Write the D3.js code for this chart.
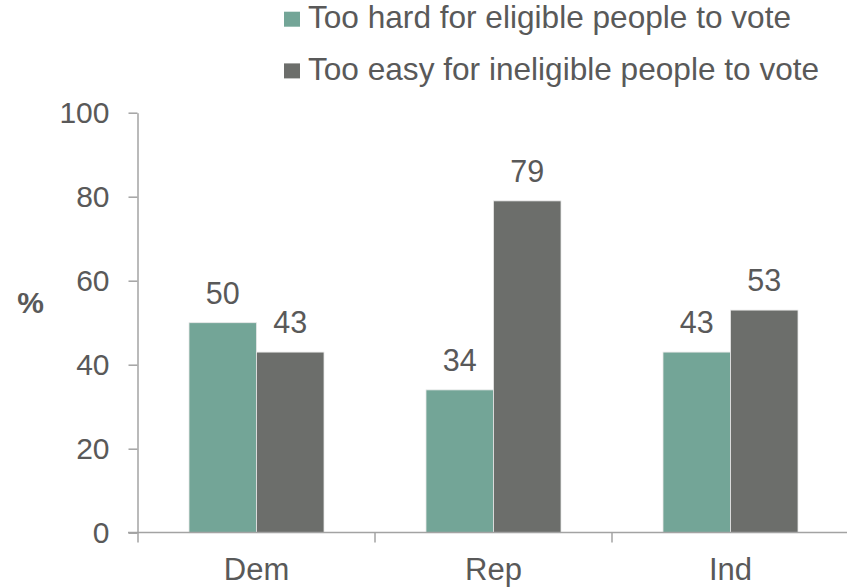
<!DOCTYPE html>
<html><head><meta charset="utf-8">
<script src="https://cdn.jsdelivr.net/npm/d3@7"></script>
<style>
html,body{margin:0;padding:0;background:#fff;}
svg{display:block;font-family:"Liberation Sans",Arial,sans-serif;}
</style></head>
<body>
<svg id="chart" width="847" height="587"></svg>
<script>
const categories = ["Dem", "Rep", "Ind"];
const seriesNames = ["Too hard for eligible people to vote", "Too easy for ineligible people to vote"];
const tooHard = [50, 34, 43];
const tooEasy = [43, 79, 53];
const yTicks = [0, 20, 40, 60, 80, 100];
const colors = ["#73a597", "#6c6e6b"];

const svg = d3.select("#chart");
const textColor = "#595959";
const axisColor = "#a3a3a3";
const fs = 30;

const y = d3.scaleLinear().domain([0, 100]).range([532.7, 112.7]);
const x0 = d3.scaleBand().domain(categories).range([138, 849]);
const x1 = d3.scaleBand().domain([0, 1]).range([51, x0.bandwidth() - 51]);

// y axis
const yAxis = d3.axisLeft(y).tickValues(yTicks).tickSize(9).tickPadding(19).tickSizeOuter(0);
const gy = svg.append("g").attr("transform", "translate(137.5,0)").call(yAxis);
gy.select(".domain").attr("stroke", axisColor).attr("stroke-width", 1.5);
gy.selectAll(".tick line").attr("stroke", axisColor).attr("stroke-width", 1.5);
gy.selectAll(".tick text").attr("fill", textColor).attr("font-size", fs).attr("font-family", "Liberation Sans, Arial, sans-serif");

// bars
const data = categories.map((c, i) => ({cat: c, vals: [tooHard[i], tooEasy[i]]}));
const groups = svg.append("g").selectAll("g").data(data).join("g")
  .attr("transform", d => `translate(${x0(d.cat)},0)`);
groups.selectAll("rect").data(d => d.vals.map((v, j) => ({v, j}))).join("rect")
  .attr("x", d => x1(d.j))
  .attr("width", x1.bandwidth())
  .attr("y", d => y(d.v))
  .attr("height", d => y(0) - y(d.v))
  .attr("fill", d => colors[d.j])
  .attr("stroke", "#e8e8e8").attr("stroke-width", 0.8);
groups.selectAll("text").data(d => d.vals.map((v, j) => ({v, j}))).join("text")
  .attr("x", d => x1(d.j) + x1.bandwidth() / 2)
  .attr("y", d => y(d.v) - 19)
  .attr("text-anchor", "middle")
  .attr("fill", textColor).attr("font-size", 30.5)
  .text(d => d.v);

// x axis
const xAxis = d3.axisBottom(x0).tickSize(0).tickPadding(0).tickSizeOuter(0);
const gx = svg.append("g").attr("transform", "translate(0,532.5)");
gx.append("line").attr("x1", 128).attr("x2", 847).attr("y1", 0).attr("y2", 0)
  .attr("stroke", axisColor).attr("stroke-width", 1.5);
gx.selectAll("line.sep").data(categories.concat(["_end"])).join("line").attr("class", "sep")
  .attr("x1", (d, i) => x0.range()[0] + i * x0.step())
  .attr("x2", (d, i) => x0.range()[0] + i * x0.step())
  .attr("y1", 0).attr("y2", 10)
  .attr("stroke", axisColor).attr("stroke-width", 1.5);
const gxl = svg.append("g").attr("transform", "translate(0,532.5)").call(xAxis);
gxl.select(".domain").remove();
gxl.selectAll(".tick text").attr("fill", textColor).attr("font-size", 31)
  .attr("font-family", "Liberation Sans, Arial, sans-serif")
  .attr("dy", null).attr("y", 47.5);

// y label
svg.append("text").attr("x", 30.5).attr("y", 313).attr("text-anchor", "middle")
  .attr("font-weight", "bold").attr("font-size", 30).attr("fill", textColor).text("%");

// legend
const leg = svg.append("g").selectAll("g").data(seriesNames).join("g")
  .attr("transform", (d, i) => `translate(284,${28.3 + i * 51.7})`);
leg.append("rect").attr("x", 0).attr("y", -16.6).attr("width", 16).attr("height", 15)
  .attr("fill", (d, i) => colors[i]);
leg.append("text").attr("x", 24).attr("y", 0).attr("fill", textColor).attr("font-size", 31.6).text(d => d);
</script>
</body></html>
